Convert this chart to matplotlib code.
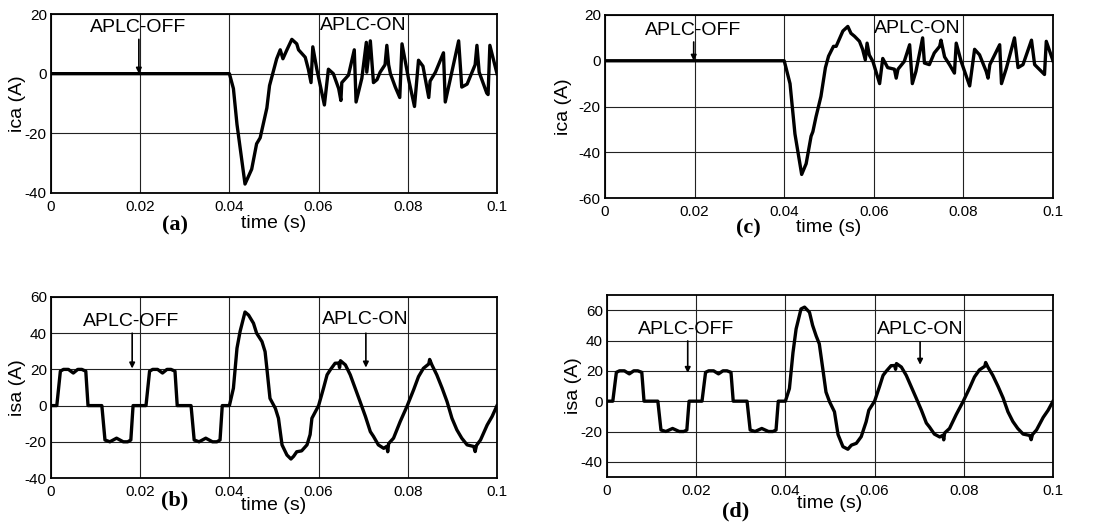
import matplotlib
matplotlib.use("Agg")
import matplotlib.pyplot as plt

plt.rcParams["font.family"] = ["Liberation Sans", "DejaVu Sans"]
plt.rcParams["axes.unicode_minus"] = False

# ---------------- data ----------------
# (a) compensating current ica, first controller
t_a = [0, 0.04, 0.0409, 0.0417, 0.0435, 0.045, 0.0461, 0.0469, 0.0484, 0.049,
       0.0506, 0.0514, 0.052, 0.0529, 0.054, 0.0551, 0.0555, 0.057, 0.0577,
       0.0583, 0.0587, 0.0596, 0.0613, 0.0622, 0.0633, 0.0645, 0.065, 0.0652,
       0.0667, 0.068, 0.0684, 0.0697, 0.0707, 0.0708, 0.0716, 0.0723, 0.0731,
       0.0738, 0.0749, 0.0753, 0.0757, 0.0761, 0.0772, 0.0782, 0.0787, 0.0802,
       0.0815, 0.0824, 0.0834, 0.0847, 0.085, 0.0862, 0.088, 0.0884, 0.0895,
       0.0914, 0.0921, 0.0933, 0.0951, 0.0955, 0.096, 0.0977, 0.098, 0.0984, 0.1]
ica_a = [0, 0, -5, -17, -37, -32, -23.5, -21.5, -11.5, -4,
         5, 8, 5, 8, 11.5, 10, 8, 5.5, 1.5,
         -3, 9, 1.5, -10.5, 1.5, 0, -5, -9, -3,
         -0.5, 8, -9.5, -1.5, 10.5, 0.5, 11, -3, -2,
         0.5, 3, 9.5, 3, 0, -4.5, -8, 10, -2,
         -11, 4.5, 2.5, -8, -2.5, 0.5, 7, -9.5, -2,
         11, -4.5, -3.5, 3, 9.5, 0.5, -6.5, -7, 9.5, 0]

# (c) compensating current ica, second controller
t_c = [0, 0.04, 0.0413, 0.0424, 0.0439, 0.0449, 0.046, 0.0464, 0.0471, 0.0482,
       0.0492, 0.0499, 0.051, 0.0516, 0.0531, 0.0542, 0.0549, 0.0557, 0.0568,
       0.0575, 0.0581, 0.0585, 0.059, 0.0598, 0.0613, 0.062, 0.0631, 0.0646,
       0.065, 0.0654, 0.0668, 0.068, 0.0686, 0.0694, 0.0709, 0.0713, 0.0724,
       0.0735, 0.0747, 0.075, 0.0758, 0.0769, 0.078, 0.0784, 0.0795, 0.0814,
       0.0825, 0.0836, 0.0851, 0.0855, 0.0859, 0.0881, 0.0885, 0.0896, 0.0914,
       0.0922, 0.0933, 0.0952, 0.0959, 0.0981, 0.0985, 0.1]
ica_c = [0, 0, -10, -32, -49.7, -45, -33, -31, -24.5, -15.6,
         -3, 2, 6.3, 6.3, 13, 15, 12, 10.7, 8.5,
         5, 0.4, 7.7, 2.5, -0.3, -10, 1, -3, -3.7,
         -7.6, -3.7, -0.3, 7, -10, -4.7, 10, -1, -1.7,
         3.4, 6.3, 9, 1.7, -1.7, -5.4, 7.7, -0.3, -11,
         5, 2.6, -4.7, -7.6, -1.7, 7, -10, -3.2, 10,
         -3, -1.7, 9, -1.7, -6, 8.5, 0]

# (b) source current isa, first controller
t_b = [0, 0.0013, 0.0021, 0.0028, 0.0039, 0.005, 0.006, 0.0069, 0.0078, 0.0083,
       0.0114, 0.0121, 0.0132, 0.0147, 0.0162, 0.0172, 0.0179, 0.0184,
       0.0213, 0.0221, 0.0228, 0.0239, 0.025, 0.026, 0.0269, 0.0278, 0.0283,
       0.0314, 0.0321, 0.0332, 0.0347, 0.0362, 0.0372, 0.0379, 0.0384, 0.04,
       0.0409, 0.0417, 0.0424, 0.0435, 0.0443, 0.0454, 0.0461, 0.0473, 0.048,
       0.0484, 0.0491, 0.0503, 0.051, 0.0518, 0.0529, 0.0538, 0.0544, 0.0551,
       0.0562, 0.0574, 0.0581, 0.0585, 0.06, 0.0611, 0.0619, 0.0626, 0.0637,
       0.0645, 0.0647, 0.0649, 0.066, 0.0671, 0.0682, 0.0693, 0.0705, 0.0716,
       0.0723, 0.0734, 0.0746, 0.0753, 0.0755, 0.0757, 0.0768, 0.0783, 0.0798,
       0.0813, 0.0824, 0.0835, 0.0847, 0.0849, 0.0854, 0.0865, 0.0877, 0.0888,
       0.0899, 0.091, 0.0921, 0.0933, 0.0948, 0.0951, 0.0954, 0.0963, 0.0978,
       0.0989, 0.1]
isa_b = [0, 0, 19, 20, 20, 18, 20, 20, 19, 0,
         0, -19, -20, -18, -20, -20, -19, 0,
         0, 19, 20, 20, 18, 20, 20, 19, 0,
         0, -19, -20, -18, -20, -20, -19, 0, 0,
         9.6, 31.7, 41, 51.7, 50, 45.5, 40, 35.4, 29.8,
         20.6, 4, -1.5, -7, -21.7, -27.3, -29.5, -28, -25.5,
         -25, -21.7, -16, -7, 0, 9.6, 17, 19.7, 23.4,
         23.5, 21, 24.8, 22.5, 17, 9.6, 2.2, -6, -14.4,
         -17, -21.7, -23.6, -22.5, -25.5, -21, -18, -8.8, -0.5,
         8.7, 16, 20.6, 23, 25.5, 22.5, 17, 9.6, 2.2,
         -7, -13.4, -18, -21.7, -22.6, -25.4, -22, -19, -10.7,
         -6, 0]

# (d) source current isa, second controller
t_d = [0, 0.0013, 0.0021, 0.0028, 0.0039, 0.005, 0.006, 0.0069, 0.0078, 0.0083,
       0.0114, 0.0121, 0.0132, 0.0147, 0.0162, 0.0172, 0.0179, 0.0184,
       0.0213, 0.0221, 0.0228, 0.0239, 0.025, 0.026, 0.0269, 0.0278, 0.0283,
       0.0314, 0.0321, 0.0332, 0.0347, 0.0362, 0.0372, 0.0379, 0.0384, 0.04,
       0.0409, 0.0417, 0.0424, 0.0435, 0.0443, 0.0454, 0.0461, 0.0469, 0.0476,
       0.0484, 0.0491, 0.0499, 0.051, 0.0518, 0.0529, 0.054, 0.0548, 0.0559,
       0.057, 0.0581, 0.0587, 0.06, 0.0611, 0.0619, 0.0626, 0.0637,
       0.0645, 0.0647, 0.0649, 0.066, 0.0671, 0.0682, 0.0693, 0.0705, 0.0716,
       0.0723, 0.0734, 0.0746, 0.0753, 0.0755, 0.0757, 0.0768, 0.0783, 0.0798,
       0.0813, 0.0824, 0.0835, 0.0847, 0.0849, 0.0854, 0.0865, 0.0877, 0.0888,
       0.0899, 0.091, 0.0921, 0.0933, 0.0948, 0.0951, 0.0954, 0.0963, 0.0978,
       0.0989, 0.1]
isa_d = [0, 0, 19, 20, 20, 18, 20, 20, 19, 0,
         0, -19, -20, -18, -20, -20, -19, 0,
         0, 19, 20, 20, 18, 20, 20, 19, 0,
         0, -19, -20, -18, -20, -20, -19, 0, 0,
         8.3, 32, 47.6, 60.8, 62, 58.6, 50, 43, 37.8,
         21, 6, -0.4, -7, -22, -30, -31.7, -29, -27.8,
         -23.4, -13.6, -6, 0, 9.6, 17, 19.7, 23.4,
         23.5, 21, 24.8, 22.5, 17, 9.6, 2.2, -6, -14.4,
         -17, -21.7, -23.6, -22.5, -25.5, -21, -18, -8.8, -0.5,
         8.7, 16, 20.6, 23, 25.5, 22.5, 17, 9.6, 2.2,
         -7, -13.4, -18, -21.7, -22.6, -25.4, -22, -19, -10.7,
         -6, 0]

x_ticks = [0, 0.02, 0.04, 0.06, 0.08, 0.1]
x_tick_labels = ["0", "0.02", "0.04", "0.06", "0.08", "0.1"]

# ---------------- figure ----------------
W, H = 1096, 526
fig = plt.figure(figsize=(W / 100, H / 100), dpi=100)


def px_axes(left, top, right, bottom):
    return fig.add_axes([left / W, 1 - bottom / H, (right - left) / W, (bottom - top) / H])


def style(ax, ylim, yticks, ylabel, xlab_off, ylab_off):
    ax.set_xlim(0, 0.1)
    ax.set_ylim(*ylim)
    ax.set_xticks(x_ticks)
    ax.set_xticklabels(x_tick_labels)
    ax.set_yticks(yticks)
    ax.set_yticklabels([str(v) for v in yticks])
    ax.tick_params(length=0, labelsize=11, pad=3)
    ax.tick_params(axis="x", pad=5)
    ax.grid(True, color="#222222", linewidth=0.8)
    ax.set_axisbelow(True)
    for s in ax.spines.values():
        s.set_linewidth(1.3)
        s.set_color("black")
    ax.set_xlabel("time (s)", fontsize=14)
    ax.set_ylabel(ylabel, fontsize=14)
    bb = ax.get_position()
    hpx = bb.height * H
    wpx = bb.width * W
    ax.xaxis.set_label_coords(0.5, -xlab_off / hpx)
    ax.xaxis.label.set_va("center")
    ax.yaxis.set_label_coords(-ylab_off / wpx, 0.5)
    ax.yaxis.label.set_va("center")


def mark(ax, text, tx, ty, ax_x, y0, y1):
    ax.text(tx, ty, text, ha="center", va="center", fontsize=14)
    ax.annotate("", xy=(ax_x, y1), xytext=(ax_x, y0),
                arrowprops=dict(arrowstyle="-|>", color="black", lw=1.2,
                                mutation_scale=8, shrinkA=0, shrinkB=0))


lw = 2.4

ax_a = px_axes(51, 14, 497, 193)
ax_a.plot(t_a, ica_a, color="black", linewidth=lw)
style(ax_a, (-40, 20), [-40, -20, 0, 20], "ica (A)", 30, 34)
mark(ax_a, "APLC-OFF", 0.0196, 15.6, 0.0197, 11.5, 0)
ax_a.text(0.0701, 16, "APLC-ON", ha="center", va="center", fontsize=14)

ax_c = px_axes(605, 15, 1053, 198)
ax_c.plot(t_c, ica_c, color="black", linewidth=lw)
style(ax_c, (-60, 20), [-60, -40, -20, 0, 20], "ica (A)", 29, 42)
mark(ax_c, "APLC-OFF", 0.0196, 13.4, 0.0198, 8.2, 0)
ax_c.text(0.0698, 14.3, "APLC-ON", ha="center", va="center", fontsize=14)

ax_b = px_axes(51, 297, 497, 478)
ax_b.plot(t_b, isa_b, color="black", linewidth=lw)
style(ax_b, (-40, 60), [-40, -20, 0, 20, 40, 60], "isa (A)", 27, 34)
mark(ax_b, "APLC-OFF", 0.0180, 46.2, 0.0182, 40, 20.5)
mark(ax_b, "APLC-ON", 0.0704, 47.3, 0.0706, 40, 21)

ax_d = px_axes(607, 295, 1053, 477)
ax_d.plot(t_d, isa_d, color="black", linewidth=lw)
style(ax_d, (-50, 70), [-40, -20, 0, 20, 40, 60], "isa (A)", 26, 34)
mark(ax_d, "APLC-OFF", 0.0177, 47.3, 0.0181, 39.7, 18.6)
mark(ax_d, "APLC-ON", 0.0702, 47.3, 0.0702, 39, 24)

# panel tags
for tag, x, y in [("(a)", 175, 225), ("(c)", 748, 228), ("(b)", 175, 500), ("(d)", 736, 511)]:
    fig.text(x / W, 1 - y / H, tag, ha="center", va="center", fontsize=16,
             fontweight="bold", family="Liberation Serif")

fig.savefig("out.png", dpi=100)
